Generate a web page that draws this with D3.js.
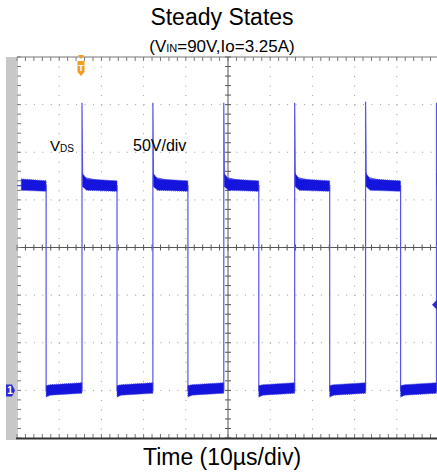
<!DOCTYPE html>
<html>
<head>
<meta charset="utf-8">
<script src="https://cdn.jsdelivr.net/npm/d3@7"></script>
<style>
  body { margin: 0; background: #fff; }
  text { font-family: "Liberation Sans", Arial, sans-serif; }
</style>
</head>
<body>
<div id="scope"></div>
<script>
// scope settings (10us/div, 50V/div)
var timeTicks = [0, 10, 20, 30, 40, 50, 60, 70, 80, 90, 100];
var voltTicks = [-50, 0, 50, 100, 150, 200, 250, 300, 350];

// switching edges of V_DS (us)
var fallTimes = [6.9, 23.7, 40.5, 57.3, 74.1, 90.9];
var riseTimes = [15.4, 32.2, 49.0, 65.8, 82.6, 99.4];
var spikePeaks = [302, 302, 302, 302, 303, 302];

// noise band of the plateaus (V), offset from plateau start (us)
var highBand = [
    { dt: 0.0, lo: 214, hi: 228 },
    { dt: 1.0, lo: 210, hi: 222 },
    { dt: 8.0, lo: 209, hi: 220 }
];
var lowBand = [
    { dt: 0.0, lo: -7, hi: 5 },
    { dt: 1.0, lo: -5, hi: 6 },
    { dt: 8.5, lo: -3, hi: 8 }
];

var svgWidth = 437;
var svgHeight = 472;

var svg = d3.select("#scope")
    .append("svg")
    .attr("width", svgWidth)
    .attr("height", svgHeight);

var x = d3.scaleLinear().domain([0, 100]).range([17, 439]);
var y = d3.scaleLinear().domain([-50, 350]).range([438, 57]);

var minorX = d3.range(0, 100.01, 2);
var minorY = d3.range(-50, 350.01, 10);

// grey strip on the left of the screen
svg.append("rect")
    .attr("x", 6).attr("y", y(350))
    .attr("width", 10).attr("height", y(-50) - y(350) + 2)
    .attr("fill", "#c8c8c8");

// dotted grid
var grid = svg.append("g");
grid.selectAll(".vgrid")
    .data(timeTicks.filter(t => t > 0 && t < 100 && t !== 50))
    .enter().append("line")
    .attr("x1", d => x(d)).attr("x2", d => x(d))
    .attr("y1", y(350)).attr("y2", y(-50))
    .attr("stroke", "#9a9a9a")
    .attr("stroke-width", 1)
    .attr("stroke-dasharray", "1," + (y(340) - y(350) - 1));
grid.selectAll(".hgrid")
    .data(voltTicks.filter(v => v > -50 && v < 350 && v !== 150))
    .enter().append("line")
    .attr("x1", x(0)).attr("x2", x(100))
    .attr("y1", d => y(d)).attr("y2", d => y(d))
    .attr("stroke", "#9a9a9a")
    .attr("stroke-width", 1)
    .attr("stroke-dasharray", "1," + (x(2) - x(0) - 1));

// center cross with minor ticks
var cross = svg.append("g").attr("stroke", "#555");
cross.append("line")
    .attr("x1", x(50)).attr("x2", x(50))
    .attr("y1", y(350)).attr("y2", y(-50));
cross.append("line")
    .attr("x1", x(0)).attr("x2", x(100))
    .attr("y1", y(150)).attr("y2", y(150));
cross.selectAll(".mx")
    .data(minorX)
    .enter().append("line")
    .attr("x1", d => x(d)).attr("x2", d => x(d))
    .attr("y1", y(150) - 3).attr("y2", y(150) + 3);
cross.selectAll(".my")
    .data(minorY)
    .enter().append("line")
    .attr("x1", x(50) - 3).attr("x2", x(50) + 3)
    .attr("y1", d => y(d)).attr("y2", d => y(d));

// frame ticks
var frame = svg.append("g").attr("stroke", "#777");
frame.append("line")
    .attr("x1", x(0)).attr("x2", x(100))
    .attr("y1", y(350)).attr("y2", y(350));
frame.selectAll(".tt")
    .data(minorX)
    .enter().append("line")
    .attr("x1", d => x(d)).attr("x2", d => x(d))
    .attr("y1", y(350)).attr("y2", y(350) + 4);
frame.selectAll(".bt")
    .data(minorX)
    .enter().append("line")
    .attr("x1", d => x(d)).attr("x2", d => x(d))
    .attr("y1", y(-50)).attr("y2", y(-50) - 4);
frame.selectAll(".lt")
    .data(minorY)
    .enter().append("line")
    .attr("x1", x(0)).attr("x2", x(0) + 4)
    .attr("y1", d => y(d)).attr("y2", d => y(d));
frame.append("line")
    .attr("x1", x(0)).attr("x2", x(0))
    .attr("y1", y(350)).attr("y2", y(-50))
    .attr("stroke", "#999");
svg.append("line")
    .attr("x1", 16).attr("x2", svgWidth)
    .attr("y1", y(-50) + 0.5).attr("y2", y(-50) + 0.5)
    .attr("stroke", "#333")
    .attr("stroke-width", 2);

// V_DS trace: thin edges
var pts = [[0, 215]];
fallTimes.forEach(function (tf, i) {
    pts.push([tf, 215], [tf, 0]);
    var tr = riseTimes[i];
    pts.push([tr, 0], [tr, spikePeaks[i]], [tr + 0.15, 224]);
});
pts.push([100, 215]);

var trace = svg.append("g");
trace.append("path")
    .datum(pts)
    .attr("fill", "none")
    .attr("stroke", "#5555e6")
    .attr("stroke-width", 1.2)
    .attr("d", d3.line().x(d => x(d[0])).y(d => y(d[1])));

// noisy plateaus drawn as bands
var band = d3.area()
    .x(d => x(d.t))
    .y0(d => y(d.lo))
    .y1(d => y(d.hi));

function plateau(t0, t1, shape) {
    var out = shape.filter(s => t0 + s.dt < t1).map(s => ({ t: t0 + s.dt, lo: s.lo, hi: s.hi }));
    var last = shape[shape.length - 1];
    out.push({ t: t1, lo: last.lo, hi: last.hi });
    return out;
}

var highs = [plateau(0, fallTimes[0], highBand.slice(1))];
riseTimes.forEach(function (tr, i) {
    var tEnd = i + 1 < fallTimes.length ? fallTimes[i + 1] : 100;
    highs.push(plateau(tr + 0.1, Math.min(tEnd, 100), highBand));
});
var lows = fallTimes.map((tf, i) => plateau(tf, riseTimes[i], lowBand));

trace.selectAll(".hi")
    .data(highs.concat(lows))
    .enter().append("path")
    .attr("fill", "#1414dc")
    .attr("stroke", "#4a4ae4")
    .attr("stroke-width", 1)
    .attr("stroke-dasharray", "1,1")
    .attr("d", band);

// trigger marker
var tx = x(riseTimes[0]) - 1;
svg.append("path")
    .attr("d", `M${tx - 3},${y(350) - 2} L${tx + 3},${y(350) - 2} L${tx},${y(350) + 2} Z`)
    .attr("fill", "#f39c1e");
svg.append("path")
    .attr("d", `M${tx - 3.5},${y(350) + 4} h7 v11 l-3.5,4 l-3.5,-4 Z`)
    .attr("fill", "#f39c1e");
svg.append("text")
    .attr("x", tx).attr("y", y(350) + 14)
    .attr("text-anchor", "middle")
    .attr("font-size", "9px")
    .attr("font-weight", "bold")
    .attr("fill", "#fff")
    .text("T");

// channel 1 ground marker
svg.append("path")
    .attr("d", `M6,${y(0) - 6} h6 l3,6 l-3,6 h-6 Z`)
    .attr("fill", "#2a2ad6");
svg.append("text")
    .attr("x", 10).attr("y", y(0) + 4)
    .attr("text-anchor", "middle")
    .attr("font-size", "10px")
    .attr("font-weight", "bold")
    .attr("fill", "#fff")
    .text("1");

// trigger level marker
svg.append("path")
    .attr("d", `M${svgWidth},${y(90) - 5} L${svgWidth},${y(90) + 5} L${svgWidth - 5},${y(90)} Z`)
    .attr("fill", "#2a2ad6");

// labels
var vds = svg.append("text")
    .attr("x", 50).attr("y", 151)
    .attr("font-size", "15px");
vds.append("tspan").text("V");
vds.append("tspan").attr("font-size", "10px").attr("dy", 1).text("DS");

svg.append("text")
    .attr("x", 133).attr("y", 151)
    .attr("font-size", "16px")
    .text("50V/div");

svg.append("text")
    .attr("x", 222).attr("y", 25)
    .attr("text-anchor", "middle")
    .attr("font-size", "23px")
    .text("Steady States");

var sub = svg.append("text")
    .attr("x", 222).attr("y", 52)
    .attr("text-anchor", "middle")
    .attr("font-size", "17px");
sub.append("tspan").text("(V");
sub.append("tspan").attr("font-size", "11px").text("IN");
sub.append("tspan").text("=90V,Io=3.25A)");

svg.append("text")
    .attr("x", 222).attr("y", 465)
    .attr("text-anchor", "middle")
    .attr("font-size", "23px")
    .text("Time (10µs/div)");
</script>
</body>
</html>
